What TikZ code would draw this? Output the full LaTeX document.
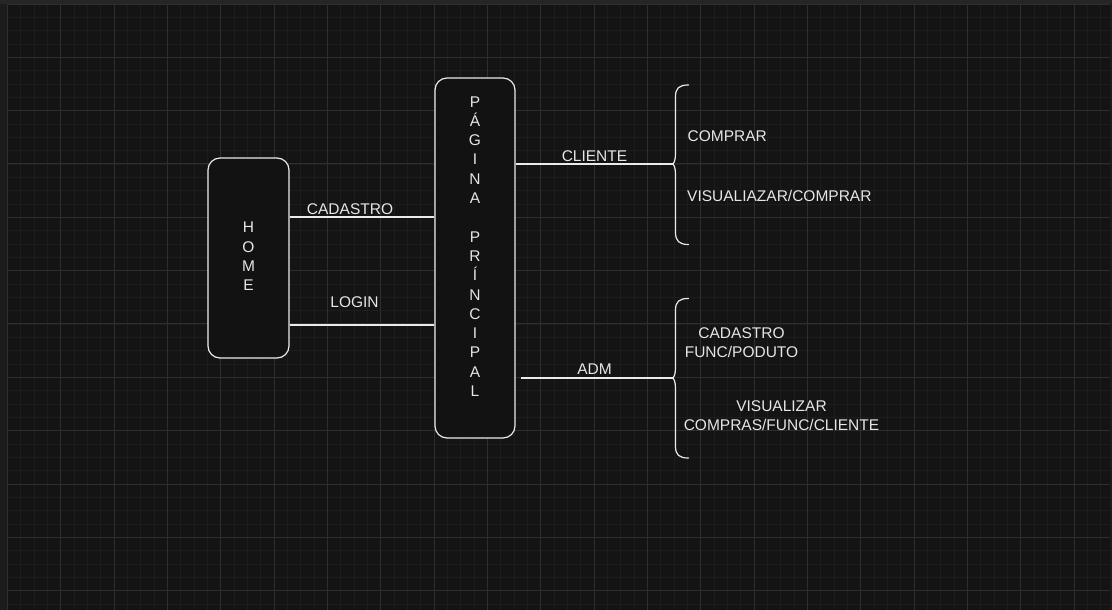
\documentclass[tikz,border=0pt]{standalone}
\usepackage{fontspec}
\setmainfont{Liberation Sans}
\definecolor{outerbg}{HTML}{1C1C1C}
\definecolor{canvasbg}{HTML}{141414}
\definecolor{minorg}{HTML}{1D1D1D}
\definecolor{majorg}{HTML}{2E2E2E}
\definecolor{topband}{HTML}{262626}
\definecolor{boxfill}{HTML}{121212}
\definecolor{linec}{HTML}{EBEBEB}
\definecolor{txt}{HTML}{E6E6E6}
\begin{document}
\begin{tikzpicture}[x=1pt,y=-1pt,
  box/.style={draw=linec, line width=1.2pt, fill=boxfill, rounded corners=12pt, inner sep=0pt},
  lbl/.style={text=txt, font=\fontsize{15.5}{19.3}\selectfont, inner sep=0pt, text depth=0pt},
  conn/.style={draw=linec, line width=1.2pt},
  brace/.style={draw=linec, line width=1.2pt, line cap=round}]
\useasboundingbox (0,0) rectangle (1112,610);
% background
\fill[outerbg] (0,0) rectangle (1112,610);
\fill[topband] (0,0) rectangle (1112,4.5);
\fill[canvasbg] (7.5,5) rectangle (1110,610);
\foreach \i in {0,...,82} {
  \draw[minorg, line width=0.8pt] ({7.5+\i*13.333},5) -- ({7.5+\i*13.333},610);
}
\foreach \i in {0,...,45} {
  \draw[minorg, line width=0.8pt] (7.5,{4+\i*13.333}) -- (1110,{4+\i*13.333});
}
\foreach \i in {1,...,20} {
  \draw[majorg, line width=1pt] ({7.5+\i*53.333},5) -- ({7.5+\i*53.333},610);
}
\foreach \i in {1,...,11} {
  \draw[majorg, line width=1pt] (7.5,{4+\i*53.333}) -- (1110,{4+\i*53.333});
}
\draw[majorg, line width=1pt] (7.5,4.5) -- (1110,4.5);
\draw[majorg, line width=1pt] (7.5,4.5) -- (7.5,610);

% boxes
\node[box, minimum width=81pt, minimum height=200pt] (home) at (248.5,258) {};
\node[box, minimum width=80pt, minimum height=360pt] (pag) at (475,258) {};
\node[lbl, align=center] (hometxt) at (248.5,256.5) {H\\O\\M\\E};
\node[lbl, align=center] (pagtxt) at (475,246.5) {P\\Á\\G\\I\\N\\A\\\mbox{}\\P\\R\\Í\\N\\C\\I\\P\\A\\L};

% connector anchor points
\coordinate (cadA) at (home.east |- 0,217);
\coordinate (cadB) at (pag.west |- 0,217);
\coordinate (logA) at (home.east |- 0,325);
\coordinate (logB) at (pag.west |- 0,325);
\coordinate (cliA) at (pag.east |- 0,164);
\coordinate (cliB) at (672,164);
\coordinate (admA) at (521,378);
\coordinate (admB) at (672,378);

\draw[conn] (cadA) -- (cadB);
\draw[conn] (logA) -- (logB);
\draw[conn] (cliA) -- (cliB);
\draw[conn] (admA) -- (admB);

\node[lbl] (lcad) at (350,209) {CADASTRO};
\node[lbl] (llog) at (354.5,302) {LOGIN};
\node[lbl] (lcli) at (594.5,156.5) {CLIENTE};
\node[lbl] (ladm) at (594.5,369.5) {ADM};

% braces
\draw[brace] (688.5,85) .. controls (679,85) and (675.5,88) .. (675.5,97)
  -- (675.5,154) .. controls (675.5,160) and (674,164) .. (cliB)
  .. controls (674,164) and (675.5,168) .. (675.5,174)
  -- (675.5,232) .. controls (675.5,241) and (679,244.5) .. (688.5,244.5);
\draw[brace] (688.5,298.5) .. controls (679,298.5) and (675.5,301.5) .. (675.5,310.5)
  -- (675.5,368) .. controls (675.5,374) and (674,378) .. (admB)
  .. controls (674,378) and (675.5,382) .. (675.5,388)
  -- (675.5,446) .. controls (675.5,455) and (679,458) .. (688.5,458);

\node[lbl, anchor=west] (t1) at (687.5,136) {COMPRAR};
\node[lbl, anchor=west] (t2) at (687,196) {VISUALIAZAR/COMPRAR};
\node[lbl, align=center] (t3) at (741.5,342.5) {CADASTRO\\FUNC/PODUTO};
\node[lbl, align=center] (t4) at (781.5,415.5) {VISUALIZAR\\COMPRAS/FUNC/CLIENTE};
\end{tikzpicture}
\end{document}
